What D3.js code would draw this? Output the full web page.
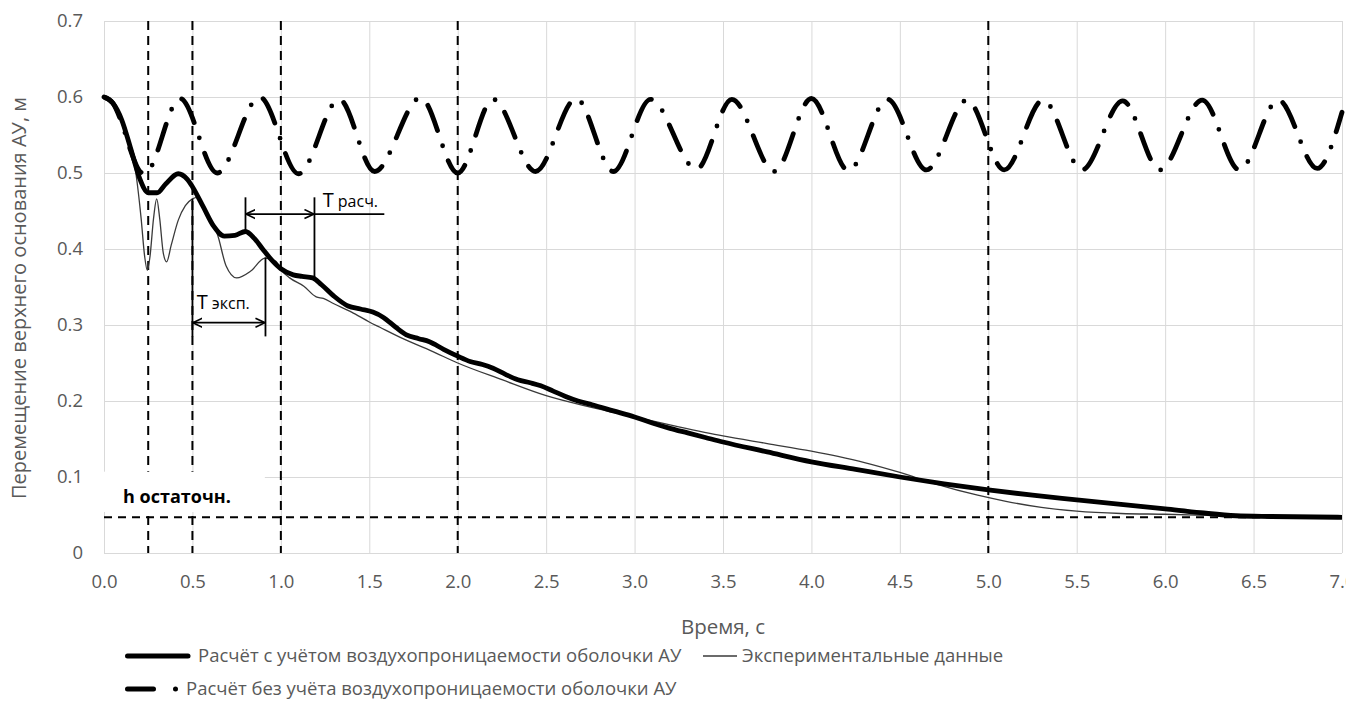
<!DOCTYPE html>
<html>
<head>
<meta charset="utf-8">
<script src="https://cdn.jsdelivr.net/npm/d3@7"></script>
<style>
body { margin: 0; background: #fff; }
text { font-family: "Open Sans", Lato, sans-serif; }
</style>
</head>
<body>
<svg id="chart" width="1370" height="706"></svg>
<script>
// series: time, s / displacement, m
var calcTime = [0, 0.05, 0.1, 0.15, 0.2, 0.25, 0.3, 0.35, 0.42, 0.47, 0.5, 0.56, 0.62, 0.68, 0.74, 0.8, 0.85, 0.9, 0.95, 1.0,
  1.07, 1.12, 1.18, 1.23, 1.3, 1.38, 1.45, 1.52, 1.58, 1.65, 1.71, 1.78, 1.84, 1.92, 2.0, 2.07, 2.14, 2.2, 2.27, 2.34,
  2.41, 2.47, 2.54, 2.61, 2.68, 2.76, 2.88, 3.0, 3.1, 3.2, 3.3, 3.4, 3.5, 3.75, 4.0, 4.25, 4.5, 4.75, 5.0, 5.25,
  5.5, 5.75, 6.0, 6.2, 6.4, 6.6, 7.0];
var calcDisp = [0.6, 0.592, 0.57, 0.533, 0.494, 0.474, 0.474, 0.486, 0.499, 0.492, 0.482, 0.456, 0.43, 0.417, 0.418, 0.423, 0.414, 0.399, 0.385, 0.374,
  0.366, 0.364, 0.362, 0.353, 0.338, 0.325, 0.321, 0.317, 0.31, 0.297, 0.287, 0.282, 0.278, 0.268, 0.259, 0.252, 0.248, 0.243, 0.235, 0.228,
  0.224, 0.22, 0.213, 0.206, 0.2, 0.195, 0.187, 0.179, 0.171, 0.164, 0.158, 0.152, 0.146, 0.133, 0.12, 0.11, 0.1, 0.091, 0.083, 0.076,
  0.07, 0.064, 0.058, 0.053, 0.049, 0.048, 0.047];

var expTime = [0, 0.05, 0.1, 0.15, 0.18, 0.21, 0.23, 0.245, 0.26, 0.28, 0.298, 0.315, 0.335, 0.354, 0.38, 0.42, 0.46, 0.5, 0.53, 0.56,
  0.6, 0.64, 0.69, 0.75, 0.83, 0.91, 0.97, 1.0, 1.05, 1.13, 1.2, 1.24, 1.3, 1.4, 1.5, 1.56, 1.7, 1.85, 2.0, 2.25,
  2.5, 2.75, 3.0, 3.25, 3.5, 3.75, 4.0, 4.15, 4.3, 4.5, 4.7, 4.94, 5.1, 5.3, 5.5, 5.75, 6.0, 6.5, 7.0];
var expDisp = [0.6, 0.592, 0.57, 0.535, 0.5, 0.44, 0.39, 0.372, 0.39, 0.44, 0.466, 0.44, 0.395, 0.383, 0.405, 0.438, 0.457, 0.466, 0.468, 0.456,
  0.437, 0.42, 0.378, 0.362, 0.371, 0.388, 0.384, 0.373, 0.362, 0.351, 0.337, 0.335, 0.328, 0.317, 0.304, 0.297, 0.281, 0.266, 0.25, 0.228,
  0.207, 0.192, 0.179, 0.166, 0.154, 0.144, 0.134, 0.127, 0.119, 0.106, 0.091, 0.076, 0.068, 0.06, 0.055, 0.052, 0.051, 0.048, 0.047];

var noAirTime = [0, 0.05, 0.1, 0.15, 0.2, 0.23, 0.43, 0.64, 0.88, 1.1, 1.33, 1.53, 1.79, 2.0, 2.2, 2.44, 2.67, 2.88, 3.09, 3.35,
  3.55, 3.79, 4.0, 4.21, 4.43, 4.65, 4.88, 5.09, 5.31, 5.53, 5.76, 5.97, 6.21, 6.42, 6.64, 6.86, 7.0];
var noAirDisp = [0.6, 0.592, 0.566, 0.53, 0.503, 0.499, 0.598, 0.5, 0.6, 0.499, 0.597, 0.502, 0.599, 0.5, 0.597, 0.502, 0.598, 0.502, 0.597, 0.505,
  0.597, 0.502, 0.598, 0.503, 0.597, 0.504, 0.596, 0.504, 0.596, 0.504, 0.595, 0.504, 0.596, 0.504, 0.596, 0.506, 0.58];

var xTicks = [0, 0.5, 1, 1.5, 2, 2.5, 3, 3.5, 4, 4.5, 5, 5.5, 6, 6.5, 7];
var yTicks = [0, 0.1, 0.2, 0.3, 0.4, 0.5, 0.6, 0.7];
var markTimes = [0.25, 0.5, 1, 2, 5];
var hResidual = 0.047;

var legendLabels = ["Расчёт с учётом воздухопроницаемости оболочки АУ", "Экспериментальные данные",
  "Расчёт без учёта воздухопроницаемости оболочки АУ"];

var svg = d3.select("#chart");
var margin = { top: 21, left: 104, right: 28, bottom: 153 };
var width = +svg.attr("width"), height = +svg.attr("height");
var innerW = width - margin.left - margin.right;
var innerH = height - margin.top - margin.bottom;

var x = d3.scaleLinear().domain([0, 7]).range([0, innerW]);
var y = d3.scaleLinear().domain([0, 0.7]).range([innerH, 0]);

var defs = svg.append("defs");
defs.append("clipPath").attr("id", "labelClip").append("rect")
  .attr("x", -margin.left).attr("y", 0).attr("width", margin.left + innerW + 4).attr("height", 60);
defs.append("marker").attr("id", "arr").attr("viewBox", "0 0 10 10").attr("refX", 9).attr("refY", 5)
  .attr("markerUnits", "userSpaceOnUse").attr("markerWidth", 10).attr("markerHeight", 11)
  .attr("orient", "auto-start-reverse")
  .append("path").attr("d", "M0,0.5L9.5,5L0,9.5").attr("fill", "none").attr("stroke", "#000").attr("stroke-width", 1.6);

var g = svg.append("g").attr("transform", `translate(${margin.left},${margin.top})`);

// grid
g.append("g").attr("transform", `translate(0,${innerH})`)
  .call(d3.axisBottom(x).tickValues(xTicks).tickSize(-innerH).tickFormat(""))
  .call(a => a.select(".domain").remove())
  .call(a => a.selectAll("line").attr("stroke", "#d9d9d9"));
g.append("g")
  .call(d3.axisLeft(y).tickValues(yTicks).tickSize(-innerW).tickFormat(""))
  .call(a => a.select(".domain").remove())
  .call(a => a.selectAll("line").attr("stroke", "#d9d9d9"));

// tick labels
var xLab = g.append("g").attr("transform", `translate(0,${innerH})`).attr("clip-path", "url(#labelClip)")
  .call(d3.axisBottom(x).tickValues(xTicks).tickSize(0).tickPadding(22).tickFormat(d => d.toFixed(1)));
xLab.select(".domain").remove();
xLab.selectAll("text").attr("font-size", 18.5).attr("fill", "#595959").style("font-family", "'Open Sans', sans-serif");

var yLab = g.append("g")
  .call(d3.axisLeft(y).tickValues(yTicks).tickSize(0).tickPadding(21).tickFormat(d => d === 0 ? "0" : d.toFixed(1)));
yLab.select(".domain").remove();
yLab.selectAll("text").attr("font-size", 18.5).attr("fill", "#595959").style("font-family", "'Open Sans', sans-serif");

// reference dashed lines
g.selectAll(".vmark").data(markTimes).enter().append("line")
  .attr("x1", d => x(d)).attr("x2", d => x(d)).attr("y1", 0).attr("y2", innerH)
  .attr("stroke", "#000").attr("stroke-width", 2).attr("stroke-dasharray", "9,6");
g.append("line").attr("x1", 0).attr("x2", innerW).attr("y1", y(hResidual)).attr("y2", y(hResidual))
  .attr("stroke", "#000").attr("stroke-width", 2).attr("stroke-dasharray", "8,6");

// curves
function line(ts, vs) {
  return d3.line().x(i => x(ts[i])).y(i => y(vs[i])).curve(d3.curveMonotoneX)(d3.range(ts.length));
}
g.append("path").attr("d", line(noAirTime, noAirDisp)).attr("fill", "none").attr("stroke", "#000")
  .attr("stroke-width", 4.8).attr("stroke-linecap", "round").attr("stroke-dasharray", "27,16,0,16");
g.append("path").attr("d", line(expTime, expDisp)).attr("fill", "none").attr("stroke", "#3a3a3a")
  .attr("stroke-width", 1.3);
g.append("path").attr("d", line(calcTime, calcDisp)).attr("fill", "none").attr("stroke", "#000")
  .attr("stroke-width", 4.8).attr("stroke-linejoin", "round");

// period annotations
function seg(x1, y1, x2, y2, arrows) {
  var l = g.append("line").attr("x1", x1).attr("y1", y1).attr("x2", x2).attr("y2", y2)
    .attr("stroke", "#000").attr("stroke-width", 1.8);
  if (arrows) l.attr("marker-start", "url(#arr)").attr("marker-end", "url(#arr)");
}
var rasch = [0.8, 1.19], eksp = [0.5, 0.913];
seg(x(rasch[0]), y(0.468), x(rasch[0]), y(0.42));
seg(x(rasch[1]), y(0.468), x(rasch[1]), y(0.363));
seg(x(rasch[0]) + 1, y(0.446), x(rasch[1]) - 1, y(0.446), true);
seg(x(rasch[1]), y(0.446), x(1.585), y(0.446));
seg(x(eksp[0]), y(0.466), x(eksp[0]), y(0.285));
seg(x(eksp[1]), y(0.389), x(eksp[1]), y(0.285));
seg(x(eksp[0]) + 1, y(0.303), x(eksp[1]) - 1, y(0.303), true);

function tLabel(tx, vy, rest) {
  var t = g.append("text").attr("x", x(tx)).attr("y", y(vy)).attr("fill", "#000");
  t.append("tspan").attr("font-size", 20).text("T");
  t.append("tspan").attr("font-size", 16).attr("dx", 4).text(rest);
}
tLabel(1.237, 0.455, "расч.");
tLabel(0.525, 0.321, "эксп.");

// residual height label on a white box
g.append("rect").attr("x", -1).attr("y", y(0.107)).attr("width", x(0.915)).attr("height", y(0.054) - y(0.107))
  .attr("fill", "#fff");
g.append("text").attr("x", x(0.108)).attr("y", y(0.066)).attr("font-size", 18).attr("font-weight", "bold")
  .attr("fill", "#000").text("h остаточн.");

// axis titles
svg.append("text").attr("x", margin.left + innerW / 2).attr("y", 634).attr("text-anchor", "middle")
  .attr("font-size", 20.5).attr("fill", "#595959").text("Время, с");
svg.append("text").attr("transform", `translate(26,298) rotate(-90)`)
  .attr("text-anchor", "middle").attr("font-size", 20).attr("fill", "#595959")
  .text("Перемещение верхнего основания АУ, м");

// legend
var lg = svg.append("g");
lg.append("line").attr("x1", 127.5).attr("x2", 188).attr("y1", 656).attr("y2", 656)
  .attr("stroke", "#000").attr("stroke-width", 5).attr("stroke-linecap", "round");
lg.append("text").attr("x", 198).attr("y", 662).attr("font-size", 18.5).attr("fill", "#595959").text(legendLabels[0]);
lg.append("line").attr("x1", 703).attr("x2", 737).attr("y1", 656).attr("y2", 656)
  .attr("stroke", "#3a3a3a").attr("stroke-width", 1.3);
lg.append("text").attr("x", 742).attr("y", 662).attr("font-size", 18.5).attr("fill", "#595959").text(legendLabels[1]);
lg.append("line").attr("x1", 127.5).attr("x2", 180).attr("y1", 689).attr("y2", 689)
  .attr("stroke", "#000").attr("stroke-width", 5).attr("stroke-linecap", "round").attr("stroke-dasharray", "26,22,0,40");
lg.append("text").attr("x", 186).attr("y", 695).attr("font-size", 18.5).attr("fill", "#595959").text(legendLabels[2]);
</script>
</body>
</html>
